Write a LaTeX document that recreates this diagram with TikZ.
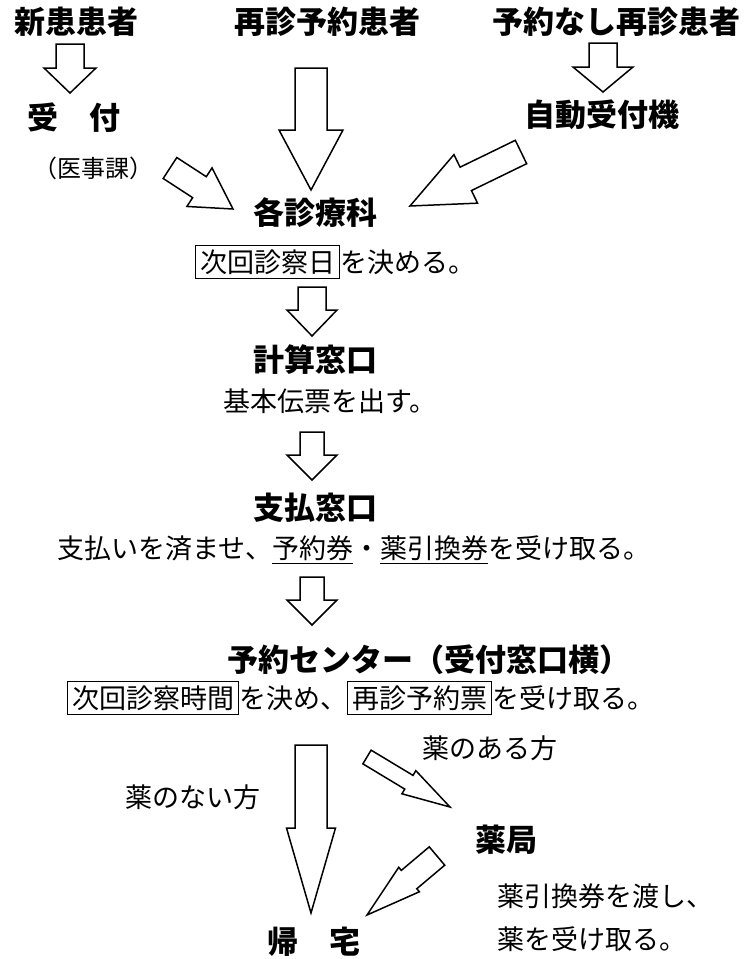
\documentclass[tikz,border=0pt]{standalone}
\usepackage{fontspec}
\setmainfont{Noto Sans CJK JP}
\usetikzlibrary{calc}
\newcommand{\mybox}[1]{{\setlength{\fboxsep}{4pt}\setlength{\fboxrule}{1pt}\fbox{#1}}}
\newcommand{\myul}[1]{\setbox0\hbox{#1}\rlap{\rule[-0.2em]{\wd0}{1.2pt}}\box0}
\newcommand{\blockarrow}[5]{%
  \pgfpointdiff{\pgfpointanchor{#1}{center}}{\pgfpointanchor{#2}{center}}%
  \pgfgetlastxy{\baDx}{\baDy}%
  \pgfmathsetmacro{\baAng}{atan2(\baDy,\baDx)}%
  \pgfmathsetmacro{\baLen}{veclen(\baDx,\baDy)}%
  \pgfmathsetmacro{\baNeck}{\baLen-#5}%
  \begin{scope}[shift={(#1)},rotate=\baAng]
    \draw[blockarr] (0,#3) -- (\baNeck,#3) -- (\baNeck,#4) -- (\baLen,0)
      -- (\baNeck,-#4) -- (\baNeck,-#3) -- (0,-#3) -- cycle;
  \end{scope}}
\tikzset{
  blockarr/.style={draw=black, line width=1.5pt, fill=white, line join=miter},
  hd/.style={font=\bfseries\fontsize{31}{31}\selectfont, inner sep=0pt},
  tx/.style={font=\fontsize{27}{27}\selectfont, inner sep=0pt},
  sm/.style={font=\fontsize{24}{24}\selectfont, inner sep=0pt}
}
\begin{document}
\begin{tikzpicture}[x=1pt,y=1pt]
\fill[white] (0,0) rectangle (747,-959);
\useasboundingbox (0,0) rectangle (747,-959);

% headings
\node[hd] (n1) at (76,-22) {新患患者};
\node[hd] (n2) at (327,-22) {再診予約患者};
\node[hd] (n3) at (616,-22) {予約なし再診患者};
\node[hd] (uke) at (74,-118) {受　付};
\node[hd] (jido) at (602,-115) {自動受付機};
\node[sm] (ijika) at (94,-168) {（医事課）};
\node[hd] (kaku) at (315,-213) {各診療科};
\node[tx,anchor=west] (kime1) at (195,-262) {\mybox{次回診察日}を決める。};
\node[hd] (keisan) at (315,-360) {計算窓口};
\node[tx,anchor=west] (kihon) at (223,-401) {基本伝票を出す。};
\node[hd] (shiharai) at (315,-508) {支払窓口};
\node[tx,anchor=west] (shi2) at (57,-550) {支払いを済ませ、\myul{予約券}・\myul{薬引換券}を受け取る。};
\node[hd,anchor=west] (yoyaku) at (227,-660) {予約センター（受付窓口横）};
\node[tx,anchor=west] (kime2) at (67,-698) {\mybox{次回診察時間}を決め、\mybox{再診予約票}を受け取る。};
\node[tx,anchor=west] (aru) at (422,-748) {薬のある方};
\node[tx,anchor=west] (nai) at (125,-797) {薬のない方};
\node[hd,anchor=west] (yakkyoku) at (475,-840) {薬局};
\node[tx,anchor=west] (wata) at (497,-896) {薬引換券を渡し、};
\node[tx,anchor=west] (uketori) at (497,-939) {薬を受け取る。};
\node[hd] (kitaku) at (314,-942) {帰　宅};

% arrow end points
\coordinate (a1) at (70,-44);   \coordinate (a2) at (70,-93);
\coordinate (b1) at (311,-68);  \coordinate (b2) at (311,-190);
\coordinate (c1) at (603,-43);  \coordinate (c2) at (603,-92);
\coordinate (d1) at (170,-168); \coordinate (d2) at (233,-209);
\coordinate (e1) at (521,-152); \coordinate (e2) at (410,-206);
\coordinate (f1) at (312,-287); \coordinate (f2) at (312,-336);
\coordinate (g1) at (312,-432); \coordinate (g2) at (312,-480);
\coordinate (h1) at (312,-577); \coordinate (h2) at (312,-625);
\coordinate (i1) at (311,-745); \coordinate (i2) at (311,-913);
\coordinate (j1) at (367,-757); \coordinate (j2) at (450,-807);
\coordinate (k1) at (437,-856); \coordinate (k2) at (367,-915);

\blockarrow{a1}{a2}{14}{26}{25}
\blockarrow{b1}{b2}{16}{32}{60}
\blockarrow{c1}{c2}{14}{30}{25}
\blockarrow{d1}{d2}{12.5}{23}{40}
\blockarrow{e1}{e2}{13}{27}{62}
\blockarrow{f1}{f2}{14}{25}{26}
\blockarrow{g1}{g2}{12}{25}{25}
\blockarrow{h1}{h2}{12}{25}{25}
\blockarrow{i1}{i2}{16}{24.5}{85}
\blockarrow{j1}{j2}{8}{13.5}{48}
\blockarrow{k1}{k2}{12}{16}{55}
\end{tikzpicture}
\end{document}
